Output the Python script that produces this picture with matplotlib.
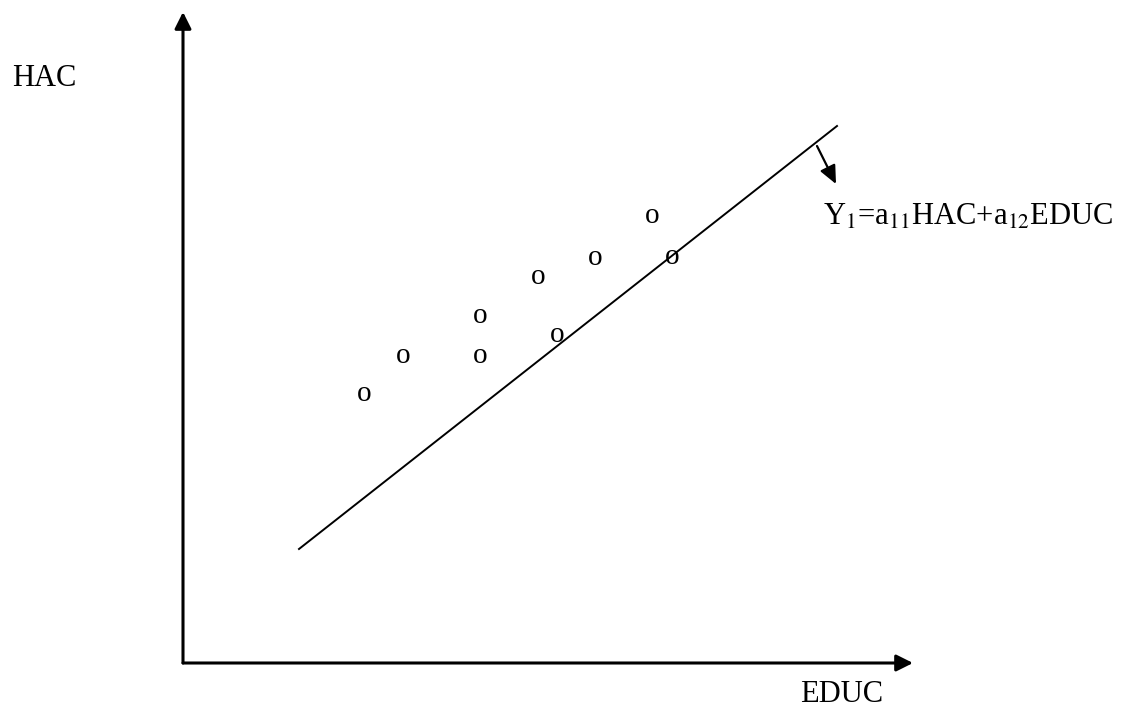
import matplotlib.pyplot as plt

plt.rcParams['font.family'] = ['Liberation Serif', 'DejaVu Serif']
plt.rcParams['mathtext.fontset'] = 'stix'

# pontos (EDUC, HAC)
educ = [18.1, 22.0, 29.7, 29.7, 35.5, 37.4, 41.2, 46.9, 48.9]
hac = [26.9, 30.7, 30.7, 34.7, 38.6, 32.8, 40.5, 44.7, 40.6]

# reta Y1
reta_x = [11.6, 65.4]
reta_y = [11.4, 53.7]

fig = plt.figure(figsize=(11.3, 7.08), dpi=100)
ax = fig.add_axes([0, 0, 1, 1])
ax.set_xlim(-18.3, 94.7)
ax.set_ylim(-4.5, 66.3)
ax.axis('off')

# eixos com setas
seta = dict(arrowstyle='-|>,head_length=1.0,head_width=0.5', color='black',
            lw=2.2, shrinkA=0, shrinkB=0)
ax.annotate('', xy=(0, 65.1), xytext=(0, 0), arrowprops=seta)
ax.annotate('', xy=(73.0, 0), xytext=(0, 0), arrowprops=seta)

ax.plot(reta_x, reta_y, color='black', lw=1.4)

for x, y in zip(educ, hac):
    ax.text(x, y, 'o', fontsize=21, ha='center', va='center')

# seta pequena apontando para o rotulo
seta2 = dict(arrowstyle='-|>,head_length=1.1,head_width=0.5', color='black',
             lw=1.6, shrinkA=0, shrinkB=0)
ax.annotate('', xy=(65.3, 47.9), xytext=(63.4, 51.7), arrowprops=seta2)

ax.text(-17.1, 58.4, 'HAC', fontsize=22, ha='left', va='center')
ax.text(61.7, -3.2, 'EDUC', fontsize=22, ha='left', va='center')
ax.text(64.0, 44.6, r'Y$_1$=a$_{11}$HAC+a$_{12}$EDUC', fontsize=22,
        ha='left', va='center')

fig.savefig('out.png', dpi=100)
